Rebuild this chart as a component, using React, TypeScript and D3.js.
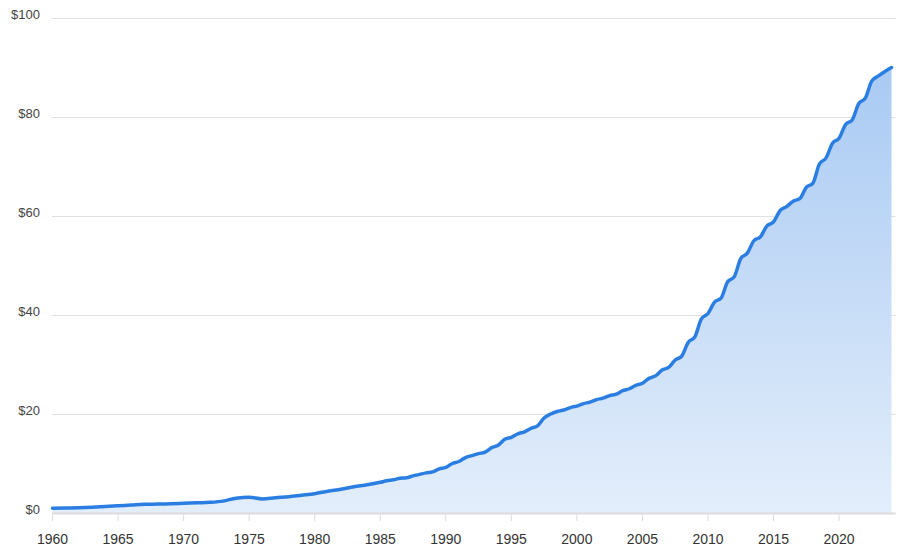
import React from "react";
import * as d3 from "d3";

// Time (fractional years) and values ($)
const years: number[] = [
  1960, 1961, 1962, 1963, 1964, 1965, 1966, 1967, 1968, 1969,
  1970, 1971, 1972, 1973, 1974, 1975, 1976, 1977, 1978, 1979,
  1980, 1981, 1982, 1983, 1984, 1985, 1985.5, 1986, 1986.5, 1987, 1987.5,
  1988, 1988.5, 1989, 1989.5, 1990, 1990.5, 1991, 1991.5, 1992, 1992.5,
  1993, 1993.5, 1994, 1994.5, 1995, 1995.5, 1996, 1996.5, 1997, 1997.5,
  1998, 1998.5, 1999, 1999.5, 2000, 2000.5, 2001, 2001.5, 2002, 2002.5,
  2003, 2003.5, 2004, 2004.5, 2005, 2005.5, 2006, 2006.5, 2007, 2007.5,
  2008, 2008.5, 2009, 2009.5, 2010, 2010.5, 2011, 2011.5, 2012, 2012.5,
  2013, 2013.5, 2014, 2014.5, 2015, 2015.5, 2016, 2016.5, 2017, 2017.5,
  2018, 2018.5, 2019, 2019.5, 2020, 2020.5, 2021, 2021.5, 2022, 2022.5,
  2023, 2023.5, 2024,
];
const values: number[] = [
  0.95, 1.0, 1.05, 1.15, 1.3, 1.45, 1.6, 1.75, 1.8, 1.85,
  1.95, 2.05, 2.15, 2.4, 3.0, 3.2, 2.85, 3.1, 3.3, 3.6,
  3.9, 4.4, 4.8, 5.3, 5.7, 6.2, 6.5, 6.7, 7.0, 7.1, 7.5,
  7.8, 8.1, 8.3, 8.9, 9.2, 10.0, 10.4, 11.2, 11.6, 12.0,
  12.3, 13.2, 13.7, 14.9, 15.3, 16.0, 16.4, 17.1, 17.6, 19.2,
  20.0, 20.5, 20.8, 21.3, 21.6, 22.1, 22.4, 22.9, 23.2, 23.7,
  24.0, 24.7, 25.1, 25.8, 26.2, 27.2, 27.7, 28.9, 29.4, 30.9,
  31.7, 34.5, 35.6, 39.2, 40.3, 42.6, 43.4, 46.7, 47.7, 51.4,
  52.5, 55.0, 55.8, 58.0, 58.8, 61.1, 61.9, 63.0, 63.5, 65.8,
  66.6, 70.5, 71.7, 74.7, 75.7, 78.5, 79.4, 82.7, 83.8, 87.3,
  88.3, 89.2, 90.0,
];
const yTicks: number[] = [0, 20, 40, 60, 80, 100];
const xTicks: number[] = [1960, 1965, 1970, 1975, 1980, 1985, 1990, 1995, 2000, 2005, 2010, 2015, 2020];

export default function App() {
  const W = 900;
  const H = 551;
  const x = d3.scaleLinear().domain([1960, 2024]).range([52.5, 891.5]);
  const y = d3.scaleLinear().domain([0, 100]).range([513, 18]);
  const data = years.map((t, i) => ({ t, v: values[i] }));

  const line = d3
    .line<{ t: number; v: number }>()
    .x((d) => x(d.t))
    .y((d) => y(d.v))
    .curve(d3.curveMonotoneX);
  const area = d3
    .area<{ t: number; v: number }>()
    .x((d) => x(d.t))
    .y0(y(0))
    .y1((d) => y(d.v))
    .curve(d3.curveMonotoneX);

  const font = "'Liberation Sans', Arial, sans-serif";
  const gridX0 = 52;
  const gridX1 = 895.5;
  const maxV = d3.max(values) as number;

  return (
    <svg
      width={W}
      height={H}
      style={{ position: "absolute", left: 0, top: 0, background: "#fff" }}
    >
      <defs>
        <linearGradient
          id="fillGrad"
          gradientUnits="userSpaceOnUse"
          x1={0}
          x2={0}
          y1={y(maxV)}
          y2={y(0)}
        >
          <stop offset="0%" stopColor="#a9caf3" />
          <stop offset="100%" stopColor="#e3eefb" />
        </linearGradient>
      </defs>
      {yTicks.slice(1).map((t) => (
        <line
          key={"g" + t}
          x1={gridX0}
          x2={gridX1}
          y1={y(t) + 0.5}
          y2={y(t) + 0.5}
          stroke="#e0e0e0"
          strokeWidth={1}
        />
      ))}
      <path d={area(data) || ""} fill="url(#fillGrad)" />
      <path
        d={line(data) || ""}
        fill="none"
        stroke="#2b7ee1"
        strokeWidth={3.5}
        strokeLinejoin="round"
        strokeLinecap="round"
      />
      {/* x axis */}
      <line x1={gridX0} x2={gridX1} y1={y(0) + 0.5} y2={y(0) + 0.5} stroke="#dcdcdc" strokeWidth={2} />
      {xTicks.map((t) => (
        <g key={"x" + t}>
          <line x1={x(t)} x2={x(t)} y1={y(0) + 1.5} y2={y(0) + 8} stroke="#dcdcdc" strokeWidth={1} />
          <text
            x={x(t)}
            y={544}
            textAnchor="middle"
            fontFamily={font}
            fontSize={14}
            fill="#333"
          >
            {t}
          </text>
        </g>
      ))}
      {yTicks.map((t) => (
        <text
          key={"y" + t}
          x={40}
          y={y(t) - 2}
          textAnchor="end"
          dominantBaseline="middle"
          fontFamily={font}
          fontSize={13}
          fill="#444"
        >
          {"$" + d3.format("d")(t)}
        </text>
      ))}
    </svg>
  );
}
